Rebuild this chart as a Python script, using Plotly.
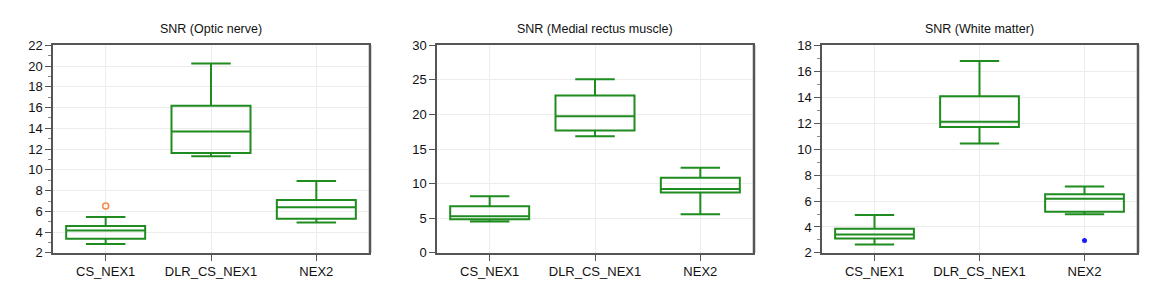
import plotly.graph_objects as go

categories = ["CS_NEX1", "DLR_CS_NEX1", "NEX2"]
titles = ["SNR (Optic nerve)", "SNR (Medial rectus muscle)", "SNR (White matter)"]

# Optic nerve
on_lower = [2.85, 11.31, 4.93]
on_q1 = [3.37, 11.62, 5.30]
on_median = [4.17, 13.70, 6.40]
on_q3 = [4.60, 16.17, 7.10]
on_upper = [5.45, 20.26, 8.93]
on_outlier_x = ["CS_NEX1"]
on_outlier_y = [6.52]

# Medial rectus muscle
mr_lower = [4.53, 16.85, 5.59]
mr_q1 = [4.85, 17.68, 8.75]
mr_median = [5.31, 19.74, 9.25]
mr_q3 = [6.73, 22.76, 10.85]
mr_upper = [8.20, 25.10, 12.32]

# White matter
wm_lower = [2.64, 10.43, 4.98]
wm_q1 = [3.12, 11.70, 5.18]
wm_median = [3.42, 12.11, 6.18]
wm_q3 = [3.86, 14.07, 6.52]
wm_upper = [4.93, 16.80, 7.11]
wm_outlier_x = ["NEX2"]
wm_outlier_y = [2.95]

y_ranges = [[2, 22], [0, 30], [2, 18]]
y_dticks = [2, 5, 2]
y_minor = [1, None, 1]

x_domains = [[45 / 1152, 361 / 1152], [429 / 1152, 745 / 1152], [814 / 1152, 1129 / 1152]]
y_domain = [1 - 251 / 288, 1 - 32 / 288]

GREEN = "#1f8c1f"
FRAME = "#555555"
FONT = "Liberation Sans, Arial, sans-serif"

fig = go.Figure()

panels = [
    (on_lower, on_q1, on_median, on_q3, on_upper),
    (mr_lower, mr_q1, mr_median, mr_q3, mr_upper),
    (wm_lower, wm_q1, wm_median, wm_q3, wm_upper),
]

for i, (lo, q1, med, q3, up) in enumerate(panels):
    xa = "x" if i == 0 else f"x{i+1}"
    ya = "y" if i == 0 else f"y{i+1}"
    fig.add_trace(go.Box(
        x=categories, lowerfence=lo, q1=q1, median=med, q3=q3, upperfence=up,
        xaxis=xa, yaxis=ya, width=0.75, whiskerwidth=0.5,
        line=dict(color=GREEN, width=2), fillcolor="rgba(255,255,255,0)",
        boxpoints=False, showlegend=False, hoverinfo="skip",
    ))

fig.add_trace(go.Scatter(
    x=on_outlier_x, y=on_outlier_y, mode="markers", xaxis="x", yaxis="y",
    marker=dict(symbol="circle-open", size=6, color="#f5894a", line=dict(width=1.5, color="#f5894a")),
    showlegend=False, hoverinfo="skip",
))
fig.add_trace(go.Scatter(
    x=wm_outlier_x, y=wm_outlier_y, mode="markers", xaxis="x3", yaxis="y3",
    marker=dict(symbol="circle", size=5, color="#1a1aff"),
    showlegend=False, hoverinfo="skip",
))

layout = dict(
    width=1152, height=288,
    margin=dict(l=0, r=0, t=0, b=0),
    paper_bgcolor="white", plot_bgcolor="white",
    font=dict(family=FONT, size=13, color="#111111"),
    annotations=[],
    shapes=[],
)

for i in range(3):
    xk = "xaxis" if i == 0 else f"xaxis{i+1}"
    yk = "yaxis" if i == 0 else f"yaxis{i+1}"
    xa = "x" if i == 0 else f"x{i+1}"
    ya = "y" if i == 0 else f"y{i+1}"
    layout[xk] = dict(
        domain=x_domains[i], anchor=ya, type="category",
        categoryorder="array", categoryarray=categories, range=[-0.5, 2.5],
        showline=True, linecolor=FRAME, linewidth=1.5, mirror=True,
        ticks="outside", ticklen=6, tickcolor=FRAME,
        showgrid=True, gridcolor="#ececec", gridwidth=1,
        tickfont=dict(size=13, family=FONT, color="#111"),
        zeroline=False, fixedrange=True,
    )
    ydict = dict(
        domain=y_domain, anchor=xa, range=y_ranges[i], dtick=y_dticks[i], tick0=0,
        showline=True, linecolor=FRAME, linewidth=1.5, mirror=True,
        ticks="outside", ticklen=6, tickcolor=FRAME,
        showgrid=True, gridcolor="#ececec", gridwidth=1,
        tickfont=dict(size=13, family=FONT, color="#111"),
        zeroline=False, fixedrange=True,
    )
    if y_minor[i]:
        ydict["minor"] = dict(dtick=y_minor[i], ticks="outside", ticklen=3, tickcolor="#888", showgrid=False)
    layout[yk] = ydict
    cx = (x_domains[i][0] + x_domains[i][1]) / 2
    layout["annotations"].append(dict(
        text=titles[i], x=cx, y=1 - 15 / 288, xref="paper", yref="paper",
        showarrow=False, xanchor="center", yanchor="middle",
        font=dict(size=12.5, family=FONT, color="#111"),
    ))
    # thicker right border (shadow effect)
    layout["shapes"].append(dict(
        type="line", xref="paper", yref="paper",
        x0=x_domains[i][1] + 1 / 1152, x1=x_domains[i][1] + 1 / 1152,
        y0=y_domain[0], y1=y_domain[1] + 0.5 / 288,
        line=dict(color=FRAME, width=2.5),
    ))

fig.update_layout(**layout)
fig.write_html("out.html")
